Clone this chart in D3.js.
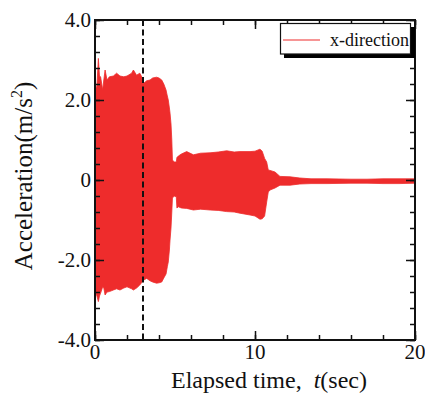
<!DOCTYPE html>
<html><head><meta charset="utf-8">
<script src="https://cdn.jsdelivr.net/npm/d3@7"></script>
<style>body{margin:0;background:#fff}svg{display:block}text{font-family:"Liberation Serif","Times New Roman",serif;fill:#111}</style>
</head><body><svg id="c" width="425" height="394"></svg>
<script>
// Envelope of the acceleration record
const times = [0.00,0.06,0.12,0.21,0.28,0.35,0.48,0.55,0.63,0.75,0.9,1.15,1.35,1.56,1.8,2.0,2.29,2.4,2.6,2.8,2.96,3.05,3.23,3.44,3.6,3.85,4.0,4.17,4.3,4.44,4.52,4.58,4.65,4.69,4.75,4.8,4.84,4.95,5.08,5.12,5.21,5.4,5.73,6.15,6.6,7.19,7.7,8.23,8.7,9.06,9.69,10.0,10.31,10.45,10.6,10.73,10.83,10.94,11.25,11.56,12.19,12.8,13.5,14.5,16,17,18,19,20];
const upper = [0.9,2.3,2.35,3.04,2.6,2.58,2.25,2.5,2.75,2.5,2.58,2.6,2.67,2.6,2.58,2.6,2.67,2.75,2.62,2.67,2.55,2.42,2.48,2.5,2.55,2.57,2.55,2.5,2.4,2.25,2.1,2.0,1.8,1.67,1.4,1.0,0.5,0.45,0.45,0.56,0.6,0.65,0.71,0.63,0.67,0.68,0.7,0.73,0.7,0.71,0.71,0.72,0.77,0.72,0.54,0.45,0.25,0.24,0.2,0.09,0.08,0.05,0.03,0.03,0.02,0.02,0.03,0.03,0.03];
const lower = [-1.6,-2.83,-2.9,-3.04,-2.9,-2.83,-2.67,-2.7,-2.875,-2.8,-2.79,-2.75,-2.72,-2.75,-2.7,-2.67,-2.72,-2.75,-2.7,-2.625,-2.54,-2.5,-2.46,-2.52,-2.55,-2.58,-2.57,-2.55,-2.45,-2.35,-2.17,-2.05,-1.75,-1.5,-1.2,-0.8,-0.45,-0.4,-0.42,-0.7,-0.67,-0.7,-0.71,-0.75,-0.73,-0.75,-0.76,-0.79,-0.8,-0.83,-0.875,-0.9,-0.98,-0.97,-0.9,-0.55,-0.3,-0.25,-0.2,-0.13,-0.13,-0.1,-0.09,-0.09,-0.08,-0.08,-0.09,-0.09,-0.08];
const xTickLabels = [0,10,20];
const yTickLabels = ["-4.0","-2.0","0","2.0","4.0"];
const yTickValues = [-4,-2,0,2,4];
const markerTime = 3;
const seriesName = "x-direction";

(function(){
const svg = d3.select("#c");
const L=95,T=20,W=320,H=320;
const x = d3.scaleLinear().domain([0,20]).range([L,L+W]);
const y = d3.scaleLinear().domain([-4,4]).range([T+H,T]);
const red = "#ee2c2c";

const data = times.map((t,i)=>({t,u:upper[i],l:lower[i]}));
svg.append("path").datum(data)
  .attr("d", d3.area().x(d=>x(d.t)).y0(d=>y(d.l)).y1(d=>y(d.u)))
  .attr("fill", red).attr("stroke", red).attr("stroke-width", 0.8);

// dashed marker
svg.append("line").attr("x1",x(markerTime)).attr("x2",x(markerTime)).attr("y1",T).attr("y2",T+H)
  .attr("stroke","#111").attr("stroke-width",2).attr("stroke-dasharray","6,3.5");

const style = g=>{g.select(".domain").remove();g.selectAll("line").attr("stroke","#111").attr("stroke-width",1.5);};
const minorX = d3.range(0,20.01,2), minorY = d3.range(-4,4.01,0.4);
function ticks(vals, size){
  svg.append("g").attr("transform",`translate(0,${T+H})`).call(d3.axisTop(x).tickValues(vals).tickSize(size).tickFormat("")).call(style);
  svg.append("g").attr("transform",`translate(0,${T})`).call(d3.axisBottom(x).tickValues(vals).tickSize(size).tickFormat("")).call(style);
}
function yticks(vals, size){
  svg.append("g").attr("transform",`translate(${L},0)`).call(d3.axisRight(y).tickValues(vals).tickSize(size).tickFormat("")).call(style);
  svg.append("g").attr("transform",`translate(${L+W},0)`).call(d3.axisLeft(y).tickValues(vals).tickSize(size).tickFormat("")).call(style);
}
ticks(minorX,5); ticks(xTickLabels,9);
yticks(minorY,5); yticks(yTickValues,9);

svg.append("rect").attr("x",L).attr("y",T).attr("width",W).attr("height",H)
  .attr("fill","none").attr("stroke","#111").attr("stroke-width",2);

// tick labels
svg.append("g").selectAll("text").data(xTickLabels).join("text")
  .attr("x",d=>x(d)).attr("y",T+H+19).attr("text-anchor","middle").attr("font-size",21).text(d=>d);
svg.append("g").selectAll("text").data(yTickValues).join("text")
  .attr("x",L-4).attr("y",d=>y(d)).attr("dy","0.35em").attr("text-anchor","end").attr("font-size",21)
  .text((d,i)=>yTickLabels[i]);

// axis titles
const xt = svg.append("text").attr("x",269).attr("y",388).attr("text-anchor","middle").attr("font-size",24);
xt.append("tspan").text("Elapsed time,\u00a0\u00a0");
xt.append("tspan").attr("font-style","italic").text("t");
xt.append("tspan").text("(sec)");
const yt = svg.append("text").attr("transform","translate(32,176) rotate(-90)").attr("text-anchor","middle").attr("font-size",25);
yt.append("tspan").text("Acceleration(m/s");
yt.append("tspan").attr("font-size",16).attr("dy",-10).text("2");
yt.append("tspan").attr("dy",10).text(")");

// legend
svg.append("rect").attr("x",284).attr("y",27).attr("width",131).attr("height",31).attr("fill","#000");
svg.append("rect").attr("x",280.5).attr("y",23.5).attr("width",130).attr("height",30.5).attr("fill","#fff").attr("stroke","#111").attr("stroke-width",1.2);
svg.append("line").attr("x1",283).attr("x2",320).attr("y1",40).attr("y2",40).attr("stroke",red).attr("stroke-width",1.2);
svg.append("text").attr("x",330).attr("y",46).attr("font-size",18).text(seriesName);
})();
</script></body></html>
